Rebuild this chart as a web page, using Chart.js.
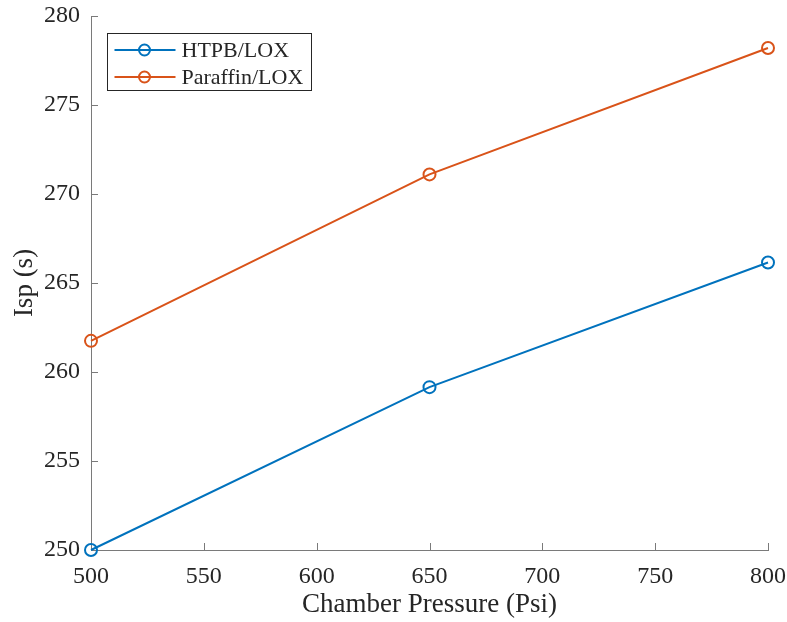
<!DOCTYPE html>
<html>
<head>
<meta charset="utf-8">
<script src="https://cdn.jsdelivr.net/npm/chart.js@4/dist/chart.umd.min.js"></script>
<style>
  html, body { margin: 0; padding: 0; background: #fff; }
  #wrap { width: 787px; height: 622px; }
</style>
</head>
<body>
<div id="wrap"><canvas id="chart" width="787" height="622"></canvas></div>
<script>
// chamber pressure (psi) on x, specific impulse (s) on y
const pressures = [500, 650, 800];
const htpbIsp = [250.0, 259.15, 266.15];
const paraffinIsp = [261.75, 271.1, 278.2];
const seriesNames = ['HTPB/LOX', 'Paraffin/LOX'];

const xTicks = [500, 550, 600, 650, 700, 750, 800];
const yTicks = [250, 255, 260, 265, 270, 275, 280];

const AXIS_COLOR = '#7a7a7a';
const TEXT_COLOR = '#262626';
const FONT = '"Liberation Serif", "Times New Roman", serif';

function toPoints(ys) {
    return pressures.map((x, i) => ({ x: x, y: ys[i] }));
}

function lineSet(label, ys, color) {
    return {
        label: label,
        data: toPoints(ys),
        borderColor: color,
        backgroundColor: 'rgba(0,0,0,0)',
        borderWidth: 2,
        pointRadius: 6,
        pointBorderWidth: 2,
        pointBackgroundColor: 'rgba(0,0,0,0)',
        pointBorderColor: color,
        tension: 0,
        clip: false,
    };
}

// MATLAB style inward tick marks
const inwardTicks = {
    id: 'inwardTicks',
    beforeDatasetsDraw(chart) {
        const { ctx, chartArea, scales } = chart;
        ctx.save();
        ctx.strokeStyle = AXIS_COLOR;
        ctx.lineWidth = 1;
        ctx.beginPath();
        xTicks.forEach(v => {
            const px = Math.round(scales.x.getPixelForValue(v)) + 0.5;
            ctx.moveTo(px, chartArea.bottom);
            ctx.lineTo(px, chartArea.bottom - 7);
        });
        yTicks.forEach(v => {
            const py = Math.round(scales.y.getPixelForValue(v)) + 0.5;
            ctx.moveTo(chartArea.left, py);
            ctx.lineTo(chartArea.left + 7, py);
        });
        ctx.stroke();
        ctx.restore();
    }
};

// legend box inside the plot, top-left
const insideLegend = {
    id: 'insideLegend',
    afterDatasetsDraw(chart) {
        const { ctx, chartArea } = chart;
        const x0 = chartArea.left + 16.5, y0 = chartArea.top + 17.5;
        const w = 204, h = 57;
        ctx.save();
        ctx.fillStyle = '#fff';
        ctx.fillRect(x0, y0, w, h);
        ctx.strokeStyle = '#262626';
        ctx.lineWidth = 1;
        ctx.strokeRect(x0, y0, w, h);
        ctx.font = '22px ' + FONT;
        ctx.textBaseline = 'middle';
        chart.data.datasets.forEach((ds, i) => {
            const cy = y0 + 16.5 + i * 27;
            ctx.strokeStyle = ds.borderColor;
            ctx.lineWidth = 2;
            ctx.beginPath();
            ctx.moveTo(x0 + 7, cy);
            ctx.lineTo(x0 + 68, cy);
            ctx.stroke();
            ctx.beginPath();
            ctx.arc(x0 + 37, cy, 5.5, 0, Math.PI * 2);
            ctx.stroke();
            ctx.fillStyle = TEXT_COLOR;
            ctx.fillText(ds.label, x0 + 74, cy + 1);
        });
        ctx.restore();
    }
};

new Chart(document.getElementById('chart'), {
    type: 'line',
    data: {
        datasets: [
            lineSet(seriesNames[0], htpbIsp, '#0072BD'),
            lineSet(seriesNames[1], paraffinIsp, '#D95319'),
        ]
    },
    options: {
        responsive: false,
        animation: false,
        layout: { padding: { top: 16, right: 19, left: 0, bottom: 0 } },
        plugins: {
            legend: { display: false },
            tooltip: { enabled: false },
        },
        scales: {
            x: {
                type: 'linear',
                min: 500,
                max: 800,
                afterBuildTicks(scale) { scale.ticks = xTicks.map(v => ({ value: v })); },
                afterFit(scale) {
                    scale.height = 72;
                    scale.paddingLeft = 0;
                    scale.paddingRight = 0;
                },
                grid: { display: true, drawOnChartArea: false, drawTicks: false },
                border: { display: true, color: AXIS_COLOR, width: 1 },
                ticks: {
                    color: TEXT_COLOR,
                    padding: 12,
                    maxRotation: 0,
                    font: { family: FONT, size: 24 },
                },
                title: {
                    display: true,
                    text: 'Chamber Pressure (Psi)',
                    color: TEXT_COLOR,
                    padding: { top: 0, bottom: 1 },
                    font: { family: FONT, size: 27 },
                },
            },
            y: {
                type: 'linear',
                min: 250,
                max: 280,
                afterBuildTicks(scale) { scale.ticks = yTicks.map(v => ({ value: v })); },
                afterFit(scale) {
                    scale.width = 91;
                    scale.paddingTop = 0;
                    scale.paddingBottom = 0;
                },
                grid: { display: true, drawOnChartArea: false, drawTicks: false },
                border: { display: true, color: AXIS_COLOR, width: 1 },
                ticks: {
                    color: TEXT_COLOR,
                    padding: 11,
                    font: { family: FONT, size: 24 },
                },
                title: {
                    display: true,
                    text: 'Isp (s)',
                    color: TEXT_COLOR,
                    padding: { top: 9, bottom: 0 },
                    font: { family: FONT, size: 27 },
                },
            },
        },
    },
    plugins: [inwardTicks, insideLegend],
});
</script>
</body>
</html>
